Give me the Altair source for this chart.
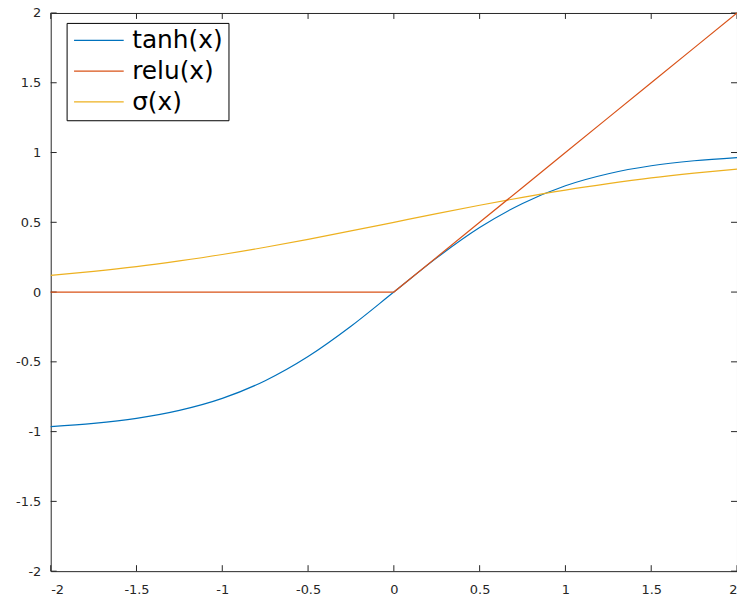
import altair as alt
import pandas as pd

xs = [-2, -1.75, -1.5, -1.25, -1, -0.75, -0.5, -0.25, 0, 0.25, 0.5, 0.75, 1, 1.25, 1.5, 1.75, 2]
tanh_vals = [-0.964, -0.941, -0.905, -0.848, -0.762, -0.635, -0.462, -0.245, 0,
             0.245, 0.462, 0.635, 0.762, 0.848, 0.905, 0.941, 0.964]
relu_vals = [0, 0, 0, 0, 0, 0, 0, 0, 0, 0.25, 0.5, 0.75, 1, 1.25, 1.5, 1.75, 2]
sig_vals = [0.119, 0.148, 0.182, 0.223, 0.269, 0.321, 0.378, 0.438, 0.5,
            0.562, 0.622, 0.679, 0.731, 0.777, 0.818, 0.852, 0.881]
series_names = ["tanh(x)", "relu(x)", "σ(x)"]
series_colors = ["#0072BD", "#D95319", "#EDB120"]
tick_vals = [-2, -1.5, -1, -0.5, 0, 0.5, 1, 1.5, 2]

W, H = 691, 562

rows = []
for name, vals in zip(series_names, [tanh_vals, relu_vals, sig_vals]):
    for x, y in zip(xs, vals):
        rows.append({"x": x, "y": y, "series": name})
df = pd.DataFrame(rows)
ticks = pd.DataFrame({"t": tick_vals})

xscale = alt.Scale(domain=[-2, 2], nice=False, zero=False)
yscale = alt.Scale(domain=[-2, 2], nice=False, zero=False)

enc = dict(
    x=alt.X("x:Q", scale=xscale, title=None,
            axis=alt.Axis(values=tick_vals, ticks=False, labelPadding=12, domain=False,
                          labelExpr="toString(datum.value)", grid=False)),
    y=alt.Y("y:Q", scale=yscale, title=None,
            axis=alt.Axis(values=tick_vals, ticks=False, labelPadding=10, domain=False,
                          labelExpr="toString(datum.value)", grid=False)),
    color=alt.Color("series:N", sort=series_names,
                    scale=alt.Scale(domain=series_names, range=series_colors),
                    legend=alt.Legend(title=None, orient="none", legendX=16, legendY=10,
                                      symbolType="M-1,0H4", symbolSize=400,
                                      symbolStrokeWidth=1.2, labelFontSize=25,
                                      labelFont="DejaVu Sans", labelColor="#000000",
                                      strokeColor="#000000", padding=5, rowPadding=5,
                                      labelOffset=36, fillColor="white")),
    detail="series:N",
)

smooth = alt.Chart(df).transform_filter(
    alt.FieldOneOfPredicate(field="series", oneOf=["tanh(x)", "σ(x)"])
).mark_line(strokeWidth=1.2, interpolate="monotone").encode(**enc)
relu = alt.Chart(df).transform_filter(
    alt.FieldEqualPredicate(field="series", equal="relu(x)")
).mark_line(strokeWidth=1.2, interpolate="linear").encode(**enc)

tick_style = dict(color="#262626", strokeWidth=1)
bottom = alt.Chart(ticks).mark_rule(**tick_style).encode(
    x=alt.X("t:Q", scale=xscale), y=alt.value(H), y2=alt.value(H - 6))
top = alt.Chart(ticks).mark_rule(**tick_style).encode(
    x=alt.X("t:Q", scale=xscale), y=alt.value(0), y2=alt.value(6))
left = alt.Chart(ticks).mark_rule(**tick_style).encode(
    y=alt.Y("t:Q", scale=yscale), x=alt.value(0), x2=alt.value(6))
right = alt.Chart(ticks).mark_rule(**tick_style).encode(
    y=alt.Y("t:Q", scale=yscale), x=alt.value(W), x2=alt.value(W - 6))

chart = alt.layer(bottom, top, left, right, smooth, relu).properties(
    width=W, height=H,
    autosize=alt.AutoSizeParams(type="none"),
    padding={"left": 43, "top": 3, "right": 0, "bottom": 24},
).configure_view(stroke="#262626", strokeWidth=1).configure_axis(
    labelFont="DejaVu Sans", labelFontSize=13, labelColor="#262626"
)

chart.save("out.html", embed_options={"renderer": "svg", "actions": False})
